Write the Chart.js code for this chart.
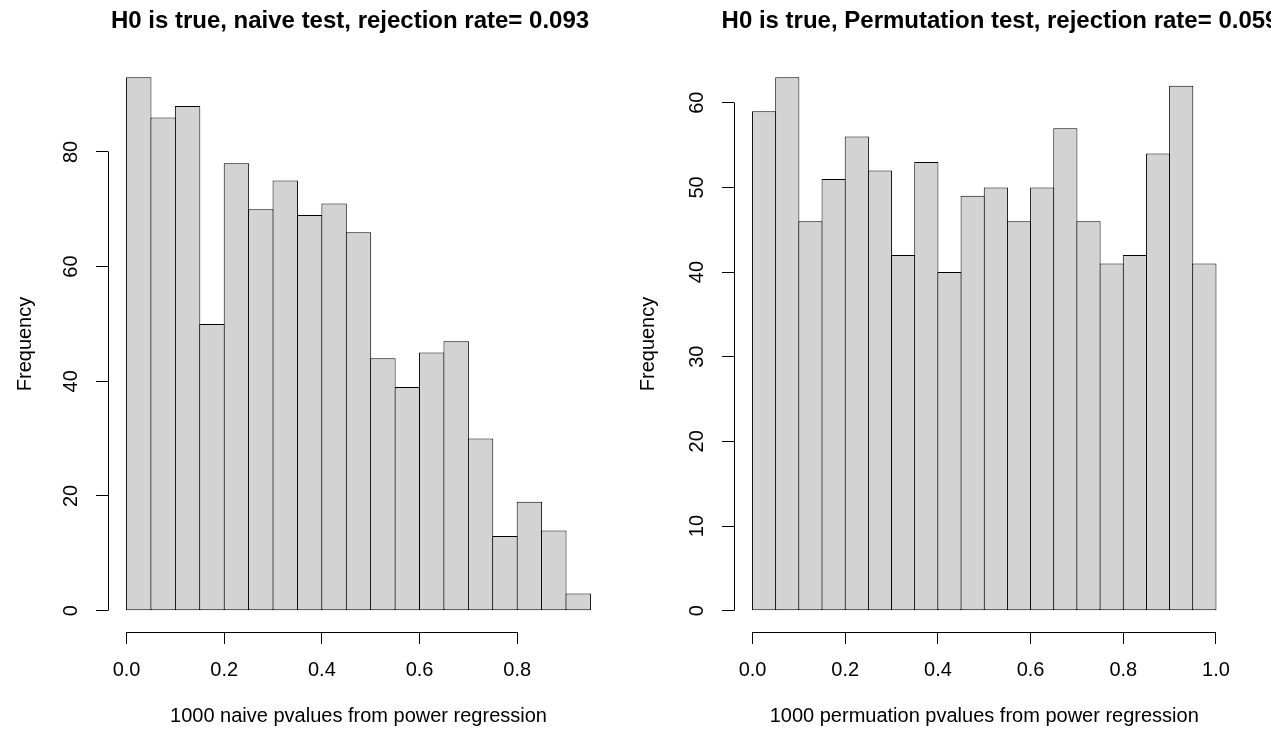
<!DOCTYPE html>
<html><head><meta charset="utf-8">
<script src="https://cdn.jsdelivr.net/npm/chart.js@4.4.1/dist/chart.umd.min.js"></script>
<style>
html,body{margin:0;padding:0;background:#fff;overflow:hidden;width:1271px;height:732px}
#wrap{position:relative;width:1271px;height:732px;overflow:hidden;background:#fff}
canvas{position:absolute;top:0}
</style></head><body><div id="wrap">
<canvas id="c1"></canvas><canvas id="c2"></canvas></div>
<script>
// ---- data ----
const naiveBreaks = [0.00,0.05,0.10,0.15,0.20,0.25,0.30,0.35,0.40,0.45,0.50,0.55,0.60,0.65,0.70,0.75,0.80,0.85,0.90,0.95];
const naiveCounts = [93,86,88,50,78,70,75,69,71,66,44,39,45,47,30,13,19,14,3];
const naiveXTicks = [0.0,0.2,0.4,0.6,0.8];
const naiveYTicks = [0,20,40,60,80];

const permBreaks = [0.00,0.05,0.10,0.15,0.20,0.25,0.30,0.35,0.40,0.45,0.50,0.55,0.60,0.65,0.70,0.75,0.80,0.85,0.90,0.95,1.00];
const permCounts = [59,63,46,51,56,52,42,53,40,49,50,46,50,57,46,41,42,54,62,41];
const permXTicks = [0.0,0.2,0.4,0.6,0.8,1.0];
const permYTicks = [0,10,20,30,40,50,60];

const mainTitles = ["H0 is true, naive test, rejection rate= 0.093","H0 is true, Permutation test, rejection rate= 0.059"];
const xTitles = ["1000 naive pvalues from power regression","1000 permuation pvalues from power regression"];
const yTitle = "Frequency";

// ---- helpers ----
const FAM = '"Liberation Sans", Arial, Helvetica, sans-serif';
function alignPx(p){ return Math.round(p - 0.5) + 0.5; }

const rAxisLines = {
  id: 'rAxisLines',
  afterDraw(chart){
    const ctx = chart.ctx, xs = chart.scales.x, ys = chart.scales.y;
    ctx.save();
    ctx.strokeStyle = '#000'; ctx.lineWidth = 1;
    const xt = xs.ticks, yt = ys.ticks;
    const y0 = alignPx(xs.top);
    ctx.beginPath();
    ctx.moveTo(alignPx(xs.getPixelForValue(xt[0].value)), y0);
    ctx.lineTo(alignPx(xs.getPixelForValue(xt[xt.length-1].value)), y0);
    const x0 = alignPx(ys.right);
    ctx.moveTo(x0, alignPx(ys.getPixelForValue(yt[0].value)));
    ctx.lineTo(x0, alignPx(ys.getPixelForValue(yt[yt.length-1].value)));
    ctx.stroke();
    ctx.restore();
  }
};

function makeHist(canvasId, p){
  const cv = document.getElementById(canvasId);
  cv.width = p.canvasWidth; cv.height = 732;
  cv.style.left = p.canvasLeft + 'px';
  cv.style.width = p.canvasWidth + 'px'; cv.style.height = '732px';
  const pts = p.counts.map((c,i)=>({x:(p.breaks[i]+p.breaks[i+1])/2, y:c}));
  const bmin = p.breaks[0], bmax = p.breaks[p.breaks.length-1];
  const xr = bmax - bmin, ymax = Math.max(...p.counts);
  const rightGap = p.canvasLeft + p.canvasWidth - p.plotRight;
  return new Chart(cv, {
    type: 'bar',
    data: { datasets: [{
      data: pts,
      backgroundColor: '#D3D3D3',
      borderColor: '#000',
      borderWidth: 1,
      borderSkipped: false,
      inflateAmount: 0,
      barPercentage: p.barPct,
      categoryPercentage: 1
    }]},
    options: {
      responsive: false, animation: false, devicePixelRatio: 1,
      layout: { padding: 0 },
      plugins: {
        legend: { display: false }, tooltip: { enabled: false },
        title: { display: true, text: p.title, color: '#000',
          font: { family: FAM, size: 24, weight: 'bold', lineHeight: 1.2 },
          padding: { top: 6.5, bottom: 56 - 6.5 - 28.8 } }
      },
      scales: {
        x: {
          type: 'linear', position: 'bottom', offset: false,
          min: bmin - 0.04*xr, max: bmax + 0.04*xr,
          afterBuildTicks: s => { s.ticks = p.xTicks.map(v=>({value:v})); },
          afterFit: s => { s.height = 100; },
          border: { display: false },
          grid: { offset: false, drawOnChartArea: false, drawTicks: true, tickLength: 12, color: '#000', lineWidth: 1 },
          ticks: { color: '#000', font: { family: FAM, size: 20 }, padding: 14, minRotation: 0, maxRotation: 0, autoSkip: false,
                   callback: v => Number(v).toFixed(1) },
          title: { display: true, text: p.xTitle, color: '#000', font: { family: FAM, size: 20, lineHeight: 1.2 }, padding: { top: 0, bottom: 4 } }
        },
        y: {
          type: 'linear', position: 'left',
          min: -0.04*ymax, max: 1.04*ymax,
          afterBuildTicks: s => { s.ticks = p.yTicks.map(v=>({value:v})); },
          afterFit: s => { s.width = p.plotLeft - p.canvasLeft; },
          border: { display: false },
          grid: { drawOnChartArea: false, drawTicks: true, tickLength: 12, color: '#000', lineWidth: 1 },
          ticks: { color: '#000', font: { family: FAM, size: 20 }, padding: 13.5, minRotation: 90, maxRotation: 90, crossAlign: 'center', autoSkip: false,
                   callback: v => String(v) },
          title: { display: true, text: yTitle, color: '#000', font: { family: FAM, size: 20, lineHeight: 1.2 }, padding: { top: p.yTitlePad, bottom: 0 } }
        },
        gap: {
          type: 'linear', position: 'right', display: true,
          afterFit: s => { s.width = rightGap; },
          border: { display: false }, grid: { display: false, drawTicks: false }, ticks: { display: false }
        }
      }
    },
    plugins: [rAxisLines]
  });
}

makeHist('c1', { canvasLeft: 0, canvasWidth: 700, plotLeft: 108, plotRight: 609,
  breaks: naiveBreaks, counts: naiveCounts, xTicks: naiveXTicks, yTicks: naiveYTicks,
  title: mainTitles[0], xTitle: xTitles[0], yTitlePad: 13, barPct: 1.041 });
makeHist('c2', { canvasLeft: 620, canvasWidth: 760, plotLeft: 734, plotRight: 1234.5,
  breaks: permBreaks, counts: permCounts, xTicks: permXTicks, yTicks: permYTicks,
  title: mainTitles[1], xTitle: xTitles[1], yTitlePad: 16, barPct: 1.043 });
</script></body></html>
